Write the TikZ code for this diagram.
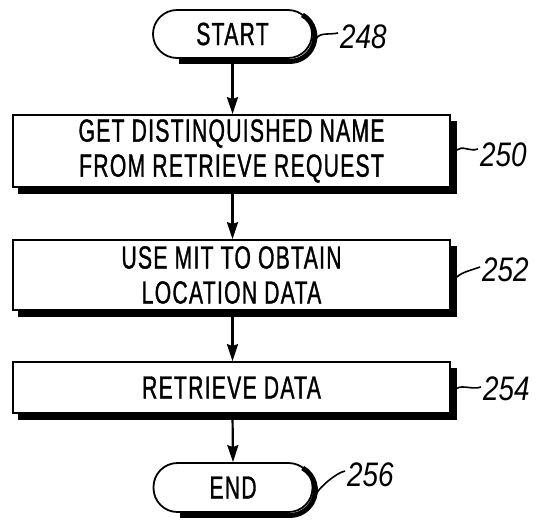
\documentclass[tikz,border=0pt]{standalone}
\usepackage{fontspec}
\usetikzlibrary{arrows.meta,calc}
\newfontfamily\stepfont[FakeStretch=0.66,FakeBold=1.0,LetterSpace=4]{Liberation Sans}
\newfontfamily\refnumfont[FakeStretch=0.82]{Liberation Sans}

\begin{document}
\begin{tikzpicture}[x=1pt,y=1pt,
  stepbox/.style={draw,line width=1.8pt,fill=white,minimum width=437pt,
    inner sep=0pt,align=center,
    font=\stepfont\fontsize{32}{35}\selectfont},
  terminal/.style={draw,line width=1.8pt,fill=white,rounded corners=24pt,
    minimum width=159pt,minimum height=48pt,inner sep=0pt,
    font=\stepfont\fontsize{32}{35}\selectfont},
  shadowfill/.style={fill=black,draw=none},
  shadowline/.style={draw=black,line width=5pt,line cap=butt},
  refnum/.style={inner sep=0pt,anchor=west,
    font=\refnumfont\itshape\fontsize{34}{36}\selectfont},
  flow/.style={line width=2.2pt,-{Stealth[length=17pt,width=11pt,inset=2pt]}},
  leader/.style={line width=1.6pt},
]
\useasboundingbox (0,0) rectangle (540,-520);

% flowchart steps
\node[terminal] (start) at (232.5,-34) {START};
\node[stepbox,minimum height=72pt] (getdn) at (231.5,-151)
  {GET DISTINQUISHED NAME\\FROM RETRIEVE REQUEST};
\node[stepbox,minimum height=70pt] (usemit) at (231.5,-275)
  {USE MIT TO OBTAIN\\LOCATION DATA};
\node[stepbox,minimum height=51pt] (retr) at (231.5,-387.5) {RETRIEVE DATA};
\node[terminal,minimum height=49pt] (end) at (233,-487.5) {END};

% solid shadows along the right and bottom sides of the boxes
\foreach \bx in {getdn,usemit,retr}{
  \fill[shadowfill] ([shift={(0,-7)}]\bx.north east) rectangle ([shift={(6,-6)}]\bx.south east);
  \fill[shadowfill] ([shift={(6,0)}]\bx.south west) rectangle ([shift={(6,-6)}]\bx.south east);
}
% crescent shadows of the terminals
\foreach \bx in {start,end}{
  \path let \p1=(\bx.center), \p2=(\bx.north east), \p3=(\bx.south west),
        \n1={(\y2-\y1)} in
    coordinate (\bx-rc) at (\x2-\n1,\y1)
    coordinate (\bx-lb) at (\x3+\n1,\y3);
  \path let \p1=(\bx.center), \p2=(\bx.north east) in
    [shadowline] ([shift={(2,-2.5)}]\bx-rc) ++(60:{\y2-\y1})
    arc[start angle=60,end angle=-90,radius={\y2-\y1}]
    -- ([shift={(2,-2.5)}]\bx-lb);
}

% flow arrows
\draw[flow] (start.south) -- (start.south |- getdn.north);
\draw[flow] (getdn.south -| start.south) -- (start.south |- usemit.north);
\draw[flow] (usemit.south -| start.south) -- (start.south |- retr.north);
\draw[flow] (retr.south -| start.south) -- (end.north);

% reference numerals
\node[refnum] (n248) at (340,-37) {248};
\node[refnum] (n250) at (480,-155) {250};
\node[refnum] (n252) at (482,-270) {252};
\node[refnum] (n254) at (483,-389) {254};
\node[refnum] (n256) at (347,-475) {256};

% leader lines
\draw[leader] ([xshift=3pt,yshift=-5pt]start.east)
  .. controls +(4,7) and +(-9,-2) .. ([xshift=-2pt,yshift=4pt]n248.west);
\draw[leader] ([xshift=6pt,yshift=1pt]getdn.east)
  .. controls +(5,5) and +(-8,-3) .. ([xshift=-2pt,yshift=6pt]n250.west);
\draw[leader] ([xshift=6pt,yshift=-2pt]usemit.east)
  .. controls +(5,5) and +(-8,-3) .. ([xshift=-2pt,yshift=3pt]n252.west);
\draw[leader] ([xshift=6pt,yshift=-1pt]retr.east)
  .. controls +(5,4) and +(-8,-3) .. ([xshift=-2pt,yshift=2pt]n254.west);
\draw[leader] ([xshift=3pt,yshift=-6pt]end.east)
  .. controls +(4,7) and +(-9,-2) .. ([xshift=-2pt,yshift=4pt]n256.west);
\end{tikzpicture}
\end{document}
